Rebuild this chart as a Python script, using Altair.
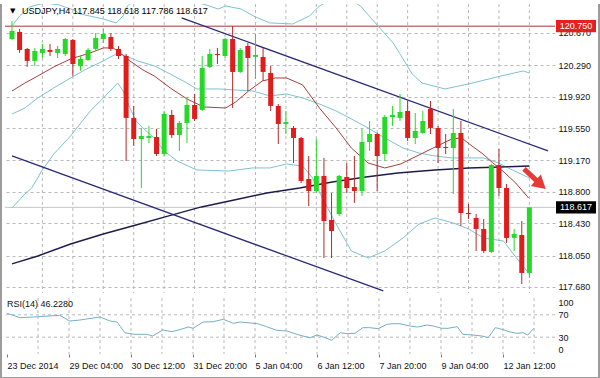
import json
import altair as alt
import pandas as pd

# ---------------- data ----------------
HEADER = "USDJPY,H4 117.845 118.618 117.786 118.617"
RSI_HEADER = "RSI(14) 46.2280"

opens = [120.599, 120.682, 120.482, 120.341, 120.435, 120.470, 120.435, 120.423, 120.588, 120.282,
         120.352, 120.482, 120.599, 120.623, 120.482, 120.399, 119.670, 119.422, 119.434, 119.446,
         119.245, 119.705, 119.469, 119.611, 119.822, 119.764, 120.270, 120.423, 120.399, 120.599,
         120.211, 120.517, 120.388, 120.388, 120.199, 119.811, 119.599, 119.552, 119.434, 118.951,
         118.810, 118.987, 118.469, 118.539, 118.975, 118.857, 118.810, 119.387, 119.481, 119.245,
         119.681, 119.670, 119.752, 119.434, 119.493, 119.775, 119.552, 119.328, 119.316, 119.493,
         118.551, 118.492, 118.363, 118.092, 119.116, 118.845, 118.257, 118.292, 117.845]
closes = [120.694, 120.470, 120.341, 120.458, 120.482, 120.447, 120.482, 120.599, 120.305, 120.364,
          120.470, 120.611, 120.658, 120.482, 120.399, 119.670, 119.422, 119.458, 119.458, 119.245,
          119.717, 119.469, 119.611, 119.822, 119.658, 120.258, 120.423, 120.411, 120.599, 120.211,
          120.470, 120.376, 120.411, 120.211, 119.811, 119.599, 119.622, 119.434, 118.928, 118.810,
          118.987, 118.457, 118.339, 118.987, 118.845, 118.810, 119.387, 119.481, 119.222, 119.681,
          119.705, 119.740, 119.434, 119.517, 119.634, 119.552, 119.316, 119.316, 119.493, 118.551,
          118.539, 118.363, 118.104, 119.116, 118.845, 118.257, 118.304, 117.845, 118.617]
highs = [120.811, 120.717, 120.494, 120.494, 120.541, 120.541, 120.517, 120.611, 120.599, 120.399,
         120.494, 120.670, 120.717, 120.670, 120.517, 120.423, 119.811, 119.552, 119.575, 119.540,
         119.752, 119.764, 119.634, 119.917, 119.952, 120.399, 120.482, 120.494, 120.611, 120.752,
         120.494, 120.552, 120.658, 120.494, 120.282, 119.834, 119.752, 119.575, 119.446, 119.222,
         119.422, 119.199, 118.786, 118.998, 119.140, 119.222, 119.540, 119.634, 119.493, 119.705,
         119.811, 119.952, 119.869, 119.728, 119.752, 119.869, 119.575, 119.481, 119.775, 119.634,
         118.657, 118.539, 118.480, 119.128, 119.304, 118.893, 118.363, 118.457, 118.618]
lows = [120.588, 120.435, 120.270, 120.282, 120.376, 120.399, 120.376, 120.399, 120.164, 120.223,
        120.341, 120.458, 120.552, 120.458, 120.364, 119.163, 119.340, 118.845, 119.375, 119.222,
        119.222, 119.434, 119.281, 119.375, 119.634, 119.752, 120.258, 120.305, 120.376, 119.787,
        120.199, 119.987, 120.129, 120.105, 119.752, 119.363, 119.481, 119.140, 118.904, 118.633,
        118.786, 118.021, 118.021, 118.515, 118.786, 118.669, 118.751, 119.281, 118.810, 119.163,
        119.575, 119.634, 119.399, 119.363, 119.481, 119.481, 119.140, 119.245, 118.775, 118.398,
        118.480, 118.104, 118.080, 118.080, 118.751, 118.198, 118.104, 117.715, 117.786]

# Bollinger bands
bb_up_i = [0, 1.0, 2.3, 4.3, 6.2, 8.1, 9.0, 12.0, 13.7, 14.6, 15.2, 16.5, 18.5, 21.0, 23.6, 25.5,
           27.1, 28.1, 30.1, 32.0, 33.9, 36.9, 39.1, 40.4, 42.3, 44.3, 45.8, 48.1, 50.1, 51.4, 52.6,
           53.9, 56.9, 60.0, 64.3, 67.2, 68.0]
bb_up_v = [120.752, 120.870, 120.976, 121.023, 121.000, 120.941, 120.894, 120.835, 120.788, 120.870,
           120.988, 121.105, 121.141, 121.105, 121.047, 121.000, 120.952, 120.988, 120.952, 120.858,
           120.788, 120.776, 120.870, 120.988, 121.082, 121.070, 120.988, 120.752, 120.552, 120.364,
           120.187, 120.081, 120.011, 120.070, 120.164, 120.223, 120.199]
bb_mid_i = [0, 1.7, 3.4, 5.5, 7.7, 9.8, 12.0, 13.7, 14.3, 15.0, 16.5, 18.7, 20.8, 23.0, 24.3, 27.2,
            29.4, 31.6, 33.9, 36.1, 38.2, 40.4, 42.6, 44.6, 46.8, 49.0, 51.4, 53.5, 55.6, 57.8, 60.0,
            62.0, 63.9, 65.5, 68.0]
bb_mid_v = [119.716, 119.787, 119.905, 120.023, 120.140, 120.246, 120.341, 120.423, 120.423, 120.399,
            120.341, 120.282, 120.187, 120.081, 120.011, 120.011, 119.999, 119.987, 119.929, 119.952,
            119.905, 119.834, 119.752, 119.658, 119.552, 119.434, 119.316, 119.257, 119.222, 119.199,
            119.199, 119.199, 119.140, 119.069, 118.963]
bb_low_i = [0, 1.7, 2.6, 3.9, 5.5, 7.7, 10.3, 12.0, 13.9, 14.6, 15.5, 16.3, 17.2, 18.7, 20.0, 21.7,
            24.3, 28.5, 31.6, 33.9, 36.1, 38.2, 39.5, 40.8, 42.6, 44.6, 46.8, 49.0, 51.4, 53.5, 55.6,
            58.0, 60.0, 62.0, 64.6, 65.9, 68.0]
bb_low_v = [118.610, 118.775, 118.845, 119.045, 119.245, 119.458, 119.752, 119.905, 120.081, 119.987,
            119.787, 119.634, 119.552, 119.434, 119.281, 119.163, 119.057, 119.045, 119.081, 119.081,
            119.128, 119.104, 118.963, 118.727, 118.421, 118.104, 118.021, 118.104, 118.257, 118.421,
            118.492, 118.433, 118.363, 118.257, 118.221, 118.068, 117.833]

# short moving average (red)
ma_fast_i = [0, 1.7, 3.4, 5.5, 7.7, 10.3, 12.0, 13.3, 14.2, 15.5, 17.2, 18.7, 20.8, 23.0, 25.2, 28.1,
             29.4, 31.1, 32.9, 34.6, 36.1, 38.2, 40.4, 42.6, 44.6, 46.8, 49.0, 51.1, 53.5, 55.9, 57.8,
             59.1, 60.1, 61.9, 63.2, 64.5, 66.2, 67.9]
ma_fast_v = [119.987, 120.081, 120.164, 120.270, 120.364, 120.435, 120.494, 120.494, 120.435, 120.341,
             120.235, 120.164, 120.023, 119.893, 119.799, 119.787, 119.858, 119.987, 120.105, 120.140,
             120.140, 120.058, 119.787, 119.552, 119.316, 119.140, 119.081, 119.128, 119.234, 119.340,
             119.422, 119.434, 119.363, 119.245, 119.140, 119.045, 118.904, 118.727]
# long moving average (dark)
ma_slow_i = [0, 3.4, 7.7, 12.0, 16.3, 20.6, 24.9, 29.2, 33.5, 37.8, 42.1, 46.5, 50.7, 55.6, 60.0, 64.3, 68.0]
ma_slow_v = [117.951, 118.045, 118.186, 118.304, 118.410, 118.516, 118.622, 118.704, 118.786, 118.845,
             118.916, 118.975, 119.022, 119.057, 119.081, 119.093, 119.104]

# trend lines (start/end)
trend_upper_i = [22.3, 70.45]
trend_upper_v = [120.847, 119.281]
trend_lower_i = [0.0, 48.8]
trend_lower_v = [119.222, 117.633]

# arrow annotation (start/end)
arrow_i = [67.3, 69.5]
arrow_v = [119.070, 118.885]

resistance = 120.750
last_price = 118.617

# RSI(14)
rsi_i = [0, 1.7, 3.4, 6.8, 8.1, 9.4, 12.0, 13.3, 14.2, 15.2, 16.3, 18.1, 18.8, 20.1, 21.3, 22.7, 23.4,
         24.0, 25.3, 26.6, 27.9, 29.2, 30.1, 32.3, 33.5, 34.8, 36.1, 37.8, 39.1, 40.0, 40.8, 41.9, 43.0,
         43.9, 44.9, 45.9, 46.8, 47.9, 49.0, 49.8, 50.7, 52.0, 53.0, 54.2, 55.0, 56.1, 56.9, 58.1, 58.8,
         60.1, 61.3, 62.1, 63.0, 63.6, 64.9, 65.8, 66.6, 67.2, 68.0]
rsi_v = [72.7, 64.8, 66.1, 69.1, 58.9, 60.7, 66.1, 58.9, 57.1, 38.0, 35.2, 35.2, 32.1, 42.9, 39.8, 45.2,
         48.2, 45.9, 57.1, 57.7, 62.0, 54.8, 57.1, 54.1, 48.8, 42.3, 41.1, 33.4, 29.1, 33.9, 30.4, 24.5,
         38.0, 36.3, 37.0, 47.0, 47.0, 45.2, 53.0, 54.1, 54.1, 50.0, 48.2, 51.8, 50.0, 45.9, 45.9, 48.8,
         35.2, 33.9, 32.1, 29.1, 47.0, 45.2, 39.3, 37.0, 38.0, 33.9, 46.2]

price_ticks = [120.670, 120.290, 119.920, 119.550, 119.170, 118.800, 118.430, 118.050, 117.680]
time_tick_i = [0, 8, 16, 24, 32, 40, 48, 56, 64]
time_tick_labels = ["23 Dec 2014", "29 Dec 04:00", "30 Dec 12:00", "31 Dec 20:00", "5 Jan 04:00",
                    "6 Jan 12:00", "7 Jan 20:00", "9 Jan 04:00", "12 Jan 12:00"]
grid_i = list(range(4, 69, 4))
rsi_levels = [30, 70]
rsi_ticks = [0, 30, 70, 100]

# ---------------- style ----------------
FONT = "Liberation Sans"
W, H_MAIN, H_RSI = 550, 289, 56
GREEN, RED, RED_WICK = "#27d827", "#df1d1d", "#b32a2a"
BAND, MA_FAST, MA_SLOW, TREND = "#7cc3d3", "#a6403b", "#1c1c4c", "#2a2a78"
GRID = "#b9b9b9"
FRAME = "#9c9c9c"

x_scale = alt.Scale(domain=[-0.26, 70.71], nice=False, zero=False)
y_scale = alt.Scale(domain=[117.609, 121.011], nice=False, zero=False)
y_axis = alt.Axis(orient="right", values=price_ticks, format=".3f", grid=True, gridDash=[3, 3],
                  gridColor=GRID, domain=False, ticks=False, labelPadding=3, labelFont=FONT,
                  labelFontSize=9, labelColor="#111", title=None, labelOverlap=False)
XM = alt.X("i:Q", scale=x_scale, axis=None)


def Ym(field):
    return alt.Y(field, type="quantitative", scale=y_scale, axis=y_axis)


bars = pd.DataFrame({"i": range(len(opens)), "o": opens, "h": highs, "l": lows, "c": closes})
bars["body_col"] = [GREEN if c >= o else RED for o, c in zip(opens, closes)]
bars["wick_col"] = [GREEN if c >= o else RED_WICK for o, c in zip(opens, closes)]

vgrid = alt.Chart(pd.DataFrame({"i": grid_i})).mark_rule(
    color=GRID, strokeDash=[3, 3], strokeWidth=1).encode(x=XM)


def line(idx, vals, color, width=1.0):
    df = pd.DataFrame({"i": idx, "v": vals})
    return alt.Chart(df).mark_line(color=color, strokeWidth=width, clip=True).encode(x=XM, y=Ym("v"))


res_line = alt.Chart(pd.DataFrame({"v": [resistance]})).mark_rule(
    strokeWidth=1, color="#a93333").encode(y=Ym("v"))
last_line = alt.Chart(pd.DataFrame({"v": [last_price]})).mark_rule(
    strokeWidth=1, color="#c6c6c6").encode(y=Ym("v"))

wicks = alt.Chart(bars).mark_rule(strokeWidth=1).encode(
    x=XM, y=Ym("l"), y2="h", color=alt.Color("wick_col:N", scale=None))
bodies = alt.Chart(bars).mark_bar(size=5).encode(
    x=XM, y=Ym("o"), y2="c", color=alt.Color("body_col:N", scale=None))

arrow_df = pd.DataFrame({"i": arrow_i, "v": arrow_v})
arrow_shaft = alt.Chart(arrow_df).mark_line(color="#e53a35", strokeWidth=5).encode(x=XM, y=Ym("v"))
arrow_head = alt.Chart(arrow_df.tail(1)).mark_point(
    shape="triangle-right", filled=True, size=230, angle=41, color="#e53a35", opacity=1).encode(x=XM, y=Ym("v"))

header = alt.Chart(pd.DataFrame({"t": [HEADER]})).mark_text(
    align="left", baseline="middle", font=FONT, fontSize=9, color="#000").encode(
    x=alt.value(17), y=alt.value(7), text="t:N")
header_tri = alt.Chart(pd.DataFrame({"t": ["▼"]})).mark_text(
    align="left", baseline="middle", font="DejaVu Sans", fontSize=7, color="#000").encode(
    x=alt.value(5), y=alt.value(7), text="t:N")

boxes = pd.DataFrame({"p": [resistance, last_price], "lab": ["120.750", "118.617"],
                      "bg": ["#e3221f", "#000000"]})
box_rect = alt.Chart(boxes).transform_calculate(
    top="datum.p + 0.072", bot="datum.p - 0.072").mark_rect().encode(
    x=alt.value(W + 1), x2=alt.value(W + 41), y=Ym("top"), y2="bot:Q",
    color=alt.Color("bg:N", scale=None))
box_text = alt.Chart(boxes).mark_text(
    align="center", baseline="middle", font=FONT, fontSize=9, color="white").encode(
    x=alt.value(W + 21), y=Ym("p"), text="lab:N")

# window border (left, right, bottom) around the picture
frame_df = pd.DataFrame({"f": [0]})
frame_left = alt.Chart(frame_df).mark_rule(color=FRAME, strokeWidth=2).encode(
    x=alt.value(-4), y=alt.value(0), y2=alt.value(374))
frame_right = alt.Chart(frame_df).mark_rule(color=FRAME, strokeWidth=2).encode(
    x=alt.value(W + 44), y=alt.value(0), y2=alt.value(374))
frame_bottom = alt.Chart(frame_df).mark_rule(color=FRAME, strokeWidth=2).encode(
    x=alt.value(-4), x2=alt.value(W + 44), y=alt.value(374))

main = alt.layer(
    vgrid, res_line, last_line,
    line(bb_up_i, bb_up_v, BAND), line(bb_mid_i, bb_mid_v, BAND), line(bb_low_i, bb_low_v, BAND),
    line(ma_fast_i, ma_fast_v, MA_FAST), line(ma_slow_i, ma_slow_v, MA_SLOW, 1.4),
    line(trend_upper_i, trend_upper_v, TREND, 1.3), line(trend_lower_i, trend_lower_v, TREND, 1.3),
    wicks, bodies, arrow_shaft, arrow_head, header_tri, header, box_rect, box_text,
    frame_left, frame_right, frame_bottom,
).properties(width=W, height=H_MAIN)

# ---------------- RSI panel ----------------
label_expr = json.dumps(time_tick_labels) + "[round(datum.value / 8)]"
x_axis = alt.Axis(values=time_tick_i, labelExpr=label_expr, labelAlign="left", labelPadding=4,
                  tickSize=3, tickColor="#777", domain=False, grid=False, labelOverlap=False,
                  labelFlush=False, title=None, labelFont=FONT, labelFontSize=9, labelColor="#111")
XR = alt.X("i:Q", scale=x_scale, axis=x_axis)
rsi_scale = alt.Scale(domain=[0, 100], nice=False, zero=False)
rsi_axis = alt.Axis(orient="right", values=rsi_ticks, grid=False, domain=False, ticks=False,
                    labelFlush=True, labelPadding=3, labelFont=FONT, labelFontSize=9,
                    labelColor="#111", title=None, labelOverlap=False)

rsi_vgrid = alt.Chart(pd.DataFrame({"i": grid_i})).mark_rule(
    color=GRID, strokeDash=[3, 3], strokeWidth=1).encode(x=XR)
rsi_lv = alt.Chart(pd.DataFrame({"r": rsi_levels})).mark_rule(
    color=GRID, strokeDash=[3, 3], strokeWidth=1).encode(
    y=alt.Y("r:Q", scale=rsi_scale, axis=rsi_axis))
rsi_line = alt.Chart(pd.DataFrame({"i": rsi_i, "r": rsi_v})).mark_line(
    color="#74b0c6", strokeWidth=1).encode(x=XR, y=alt.Y("r:Q", scale=rsi_scale, axis=rsi_axis))
rsi_text = alt.Chart(pd.DataFrame({"t": [RSI_HEADER]})).mark_text(
    align="left", baseline="middle", font=FONT, fontSize=9, color="#111").encode(
    x=alt.value(2), y=alt.value(6), text="t:N")

rsi = alt.layer(rsi_vgrid, rsi_lv, rsi_line, rsi_text).properties(width=W, height=H_RSI)

chart = alt.vconcat(main, rsi, spacing=5, bounds="flush").properties(
    padding={"left": 0, "top": 3, "right": 0, "bottom": 0},
    background="white",
).configure_view(stroke=None)

chart.save("out.html", embed_options={"renderer": "svg", "actions": False})
